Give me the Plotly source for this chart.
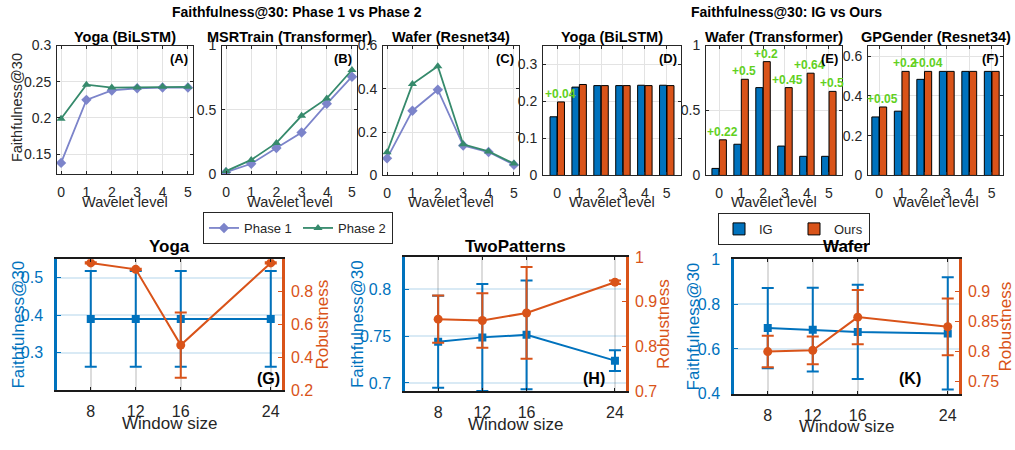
import plotly.graph_objects as go

# ---------------- data ----------------
levels = [0, 1, 2, 3, 4, 5]

# Phase 1 vs Phase 2 (Faithfulness@30)
yoga_bilstm_p1 = [0.138, 0.225, 0.238, 0.241, 0.242, 0.242]
yoga_bilstm_p2 = [0.199, 0.246, 0.242, 0.242, 0.243, 0.243]
msrtrain_p1 = [0.018, 0.083, 0.205, 0.325, 0.548, 0.758]
msrtrain_p2 = [0.026, 0.113, 0.245, 0.455, 0.590, 0.810]
wafer_res_p1 = [0.079, 0.299, 0.396, 0.138, 0.108, 0.049]
wafer_res_p2 = [0.107, 0.422, 0.504, 0.144, 0.111, 0.055]

# IG vs Ours (Faithfulness@30)
yoga_ig = [0.158, 0.238, 0.242, 0.242, 0.243, 0.243]
yoga_ours = [0.198, 0.245, 0.242, 0.242, 0.242, 0.242]
wafer_tr_ig = [0.054, 0.240, 0.676, 0.226, 0.147, 0.147]
wafer_tr_ours = [0.274, 0.740, 0.876, 0.676, 0.787, 0.647]
gpgender_ig = [0.294, 0.323, 0.483, 0.523, 0.523, 0.523]
gpgender_ours = [0.344, 0.523, 0.523, 0.523, 0.523, 0.523]
yoga_gain_idx = [0]
wafer_tr_gain_idx = [0, 1, 2, 3, 4, 5]
gpgender_gain_idx = [0, 1, 2]

# Window size study
windows = [8, 12, 16, 24]
yoga_faith = [0.39, 0.39, 0.39, 0.39]
yoga_faith_err = [0.128, 0.128, 0.128, 0.128]
yoga_rob = [0.972, 0.933, 0.473, 0.972]
yoga_rob_err = [0.004, 0.004, 0.198, 0.004]
twop_faith = [0.744, 0.7486, 0.7513, 0.7238]
twop_faith_err = [0.049, 0.057, 0.058, 0.011]
twop_rob = [0.861, 0.858, 0.875, 0.944]
twop_rob_err = [0.053, 0.061, 0.103, 0.004]
wafer_faith = [0.693, 0.686, 0.676, 0.669]
wafer_faith_err = [0.179, 0.187, 0.210, 0.250]
wafer_rob = [0.800, 0.802, 0.857, 0.841]
wafer_rob_err = [0.026, 0.023, 0.045, 0.047]

# ---------------- style ----------------
W, H = 1015, 450
FONT = "Liberation Sans, Arial, Helvetica, sans-serif"
DARK = "#262626"
GRID = "#E3E3E3"
C_P1 = "rgb(124,132,202)"
C_P2 = "rgb(54,138,108)"
C_IG = "#0072BD"
C_OURS = "#D95319"
C_GAIN = "rgb(98,208,30)"
BLUE_GRID = "rgba(0,114,189,0.15)"


def xd(left, right):
    return [left / W, right / W]


def yd(top, bottom):
    return [1 - bottom / H, 1 - top / H]


def px(x):
    return x / W


def py(y):
    return 1 - y / H


fig = go.Figure()
layout = dict(
    width=W, height=H, autosize=False,
    margin=dict(l=0, r=0, t=0, b=0),
    paper_bgcolor="white", plot_bgcolor="white",
    font=dict(family=FONT, color=DARK, size=14),
    barmode="group", bargap=0.32, bargroupgap=0.06,
    showlegend=True,
)
annotations = []


def add_text(x, y, text, size=14, bold=False, color=DARK, xanchor="center",
             yanchor="middle", angle=0):
    annotations.append(dict(
        x=px(x), y=py(y), xref="paper", yref="paper", showarrow=False,
        text=f"<b>{text}</b>" if bold else text, textangle=angle,
        font=dict(size=size, color=color, family=FONT),
        xanchor=xanchor, yanchor=yanchor))


def top_axes(i, box, xrange, yrange, yticks):
    l, t, r, b = box
    layout[f"xaxis{i}"] = dict(
        domain=xd(l, r), anchor=f"y{i}", range=xrange,
        tickvals=levels, showgrid=True, gridcolor=GRID, zeroline=False,
        showline=True, linecolor=DARK, linewidth=1, mirror="ticks",
        ticks="inside", ticklen=3, tickcolor=DARK,
        tickfont=dict(size=14, color=DARK), ticklabelstandoff=5)
    layout[f"yaxis{i}"] = dict(
        domain=yd(t, b), anchor=f"x{i}", range=yrange,
        tickvals=yticks, showgrid=True, gridcolor=GRID, zeroline=False,
        showline=True, linecolor=DARK, linewidth=1, mirror="ticks",
        ticks="inside", ticklen=3, tickcolor=DARK,
        tickfont=dict(size=14, color=DARK), ticklabelstandoff=2)
    add_text((l + r) / 2, 202, "Wavelet level", size=14.5)


# ---------------- top row: Phase 1 vs Phase 2 ----------------
line_panels = [
    (1, (57, 39, 193, 173), [0.122, 0.3], [0.15, 0.2, 0.25, 0.3],
     yoga_bilstm_p1, yoga_bilstm_p2, "Yoga (BiLSTM)", "(A)"),
    (2, (222, 39, 357, 173), [0, 1], [0, 0.5, 1],
     msrtrain_p1, msrtrain_p2, "MSRTrain (Transformer)", "(B)"),
    (3, (383, 39, 519, 174), [0, 0.6], [0, 0.2, 0.4, 0.6],
     wafer_res_p1, wafer_res_p2, "Wafer (Resnet34)", "(C)"),
]
for i, box, yr, yt, p1, p2, title, tag in line_panels:
    top_axes(i, box, [-0.16, 5.2], yr, yt)
    fig.add_trace(go.Scatter(
        x=levels, y=p1, mode="lines+markers", name="Phase 1",
        line=dict(color=C_P1, width=1.8),
        marker=dict(symbol="diamond", size=8, color=C_P1),
        xaxis=f"x{i}", yaxis=f"y{i}", legend="legend", showlegend=(i == 1)))
    fig.add_trace(go.Scatter(
        x=levels, y=p2, mode="lines+markers", name="Phase 2",
        line=dict(color=C_P2, width=1.8),
        marker=dict(symbol="triangle-up", size=8, color=C_P2),
        xaxis=f"x{i}", yaxis=f"y{i}", legend="legend", showlegend=(i == 1)))
    l, t, r, b = box
    add_text((l + r) / 2, 30, title, size=14.5, bold=True, color="black")
    add_text(r - 3, 53, tag, size=13, bold=True, color="black", xanchor="right")

add_text(17, 104, "Faithfulness@30", size=14.5, angle=-90)

# ---------------- top row: IG vs Ours ----------------
bar_panels = [
    (4, (543, 39, 681, 174), [-0.65, 5.65], [0, 0.35], [0, 0.1, 0.2, 0.3],
     yoga_ig, yoga_ours, yoga_gain_idx, "Yoga (BiLSTM)", "(D)"),
    (5, (706, 39, 842, 174), [-0.6, 5.6], [0, 1], [0, 0.5, 1],
     wafer_tr_ig, wafer_tr_ours, wafer_tr_gain_idx, "Wafer (Transformer)", "(E)"),
    (6, (868, 39, 1003, 174), [-0.5, 5.5], [0, 0.653], [0, 0.2, 0.4, 0.6],
     gpgender_ig, gpgender_ours, gpgender_gain_idx, "GPGender (Resnet34)", "(F)"),
]
for i, box, xr, yr, yt, ig, ours, gain_idx, title, tag in bar_panels:
    top_axes(i, box, xr, yr, yt)
    fig.add_trace(go.Bar(
        x=levels, y=ig, name="IG", marker=dict(color=C_IG, line=dict(color="black", width=1)),
        xaxis=f"x{i}", yaxis=f"y{i}", legend="legend2", showlegend=(i == 5)))
    fig.add_trace(go.Bar(
        x=levels, y=ours, name="Ours", marker=dict(color=C_OURS, line=dict(color="black", width=1)),
        xaxis=f"x{i}", yaxis=f"y{i}", legend="legend2", showlegend=(i == 5)))
    for k in gain_idx:
        gain = round(ours[k] - ig[k], 2)
        annotations.append(dict(
            x=levels[k], y=ours[k], xref=f"x{i}", yref=f"y{i}", showarrow=False,
            text=f"<b>+{gain:g}</b>", xshift=3, yshift=-1,
            font=dict(size=12, color=C_GAIN, family=FONT),
            xanchor="center", yanchor="bottom"))
    l, t, r, b = box
    add_text((l + r) / 2, 30, title, size=14.5, bold=True, color="black")
    add_text(r - 2, 52, tag, size=13, bold=True, color="black", xanchor="right")

add_text(297, 4, "Faithfulness@30: Phase 1 vs Phase 2", size=14, bold=True, color="black")
add_text(786, 4, "Faithfulness@30: IG vs Ours", size=14, bold=True, color="black")

# ---------------- bottom row: window size ----------------
win_panels = [
    (7, 7, 8, (57, 261, 282, 397), [0.2, 0.55], [0.3, 0.4, 0.5],
     [0.2, 0.995], [0.2, 0.4, 0.6, 0.8], yoga_faith, yoga_faith_err, yoga_rob, yoga_rob_err,
     "Yoga", "(G)", 282, 19, 323, 432),
    (8, 9, 10, (405, 259, 626, 398), [0.6915, 0.834], [0.7, 0.75, 0.8],
     [0.7, 1.0], [0.7, 0.8, 0.9, 1], twop_faith, twop_faith_err, twop_rob, twop_rob_err,
     "TwoPatterns", "(H)", 607, 357, 663, 433),
    (9, 11, 12, (734, 261, 959, 401), [0.4, 1.0], [0.4, 0.6, 0.8, 1],
     [0.73, 0.953], [0.75, 0.8, 0.85, 0.9], wafer_faith, wafer_faith_err, wafer_rob, wafer_rob_err,
     "Wafer", "(K)", 923, 693, 1005, 435),
]
for (xi, yl, yr_, box, fr, ft, rr, rt, faith, ferr, rob, rerr,
     title, tag, tag_x, fl_x, rl_x, xt_y) in win_panels:
    l, t, r, b = box
    layout[f"xaxis{xi}"] = dict(
        domain=xd(l, r), anchor=f"y{yl}", range=[5, 25], tickvals=windows,
        showgrid=True, gridcolor="#DCDCDC", gridwidth=1.5, zeroline=False,
        showline=True, linecolor="#1a1a1a", linewidth=2, mirror="ticks",
        ticks="inside", ticklen=3, tickcolor="#1a1a1a",
        tickfont=dict(size=16, color=DARK), ticklabelstandoff=6)
    layout[f"yaxis{yl}"] = dict(
        domain=yd(t, b), anchor=f"x{xi}", range=fr, tickvals=ft,
        showgrid=True, gridcolor=BLUE_GRID, gridwidth=1.5, zeroline=False,
        showline=True, linecolor=C_IG, linewidth=2.5,
        ticks="inside", ticklen=4, tickcolor=C_IG,
        tickfont=dict(size=16, color=C_IG), ticklabelstandoff=8)
    layout[f"yaxis{yr_}"] = dict(
        overlaying=f"y{yl}", side="right", anchor=f"x{xi}", range=rr, tickvals=rt,
        showgrid=False, zeroline=False,
        showline=True, linecolor=C_OURS, linewidth=2.5,
        ticks="inside", ticklen=4, tickcolor=C_OURS,
        tickfont=dict(size=16, color=C_OURS), ticklabelstandoff=3)
    fig.add_trace(go.Scatter(
        x=windows, y=faith, mode="lines+markers", name="Faithfulness@30",
        line=dict(color=C_IG, width=2), marker=dict(symbol="square", size=8, color=C_IG),
        error_y=dict(type="data", array=ferr, color=C_IG, thickness=2, width=6),
        xaxis=f"x{xi}", yaxis=f"y{yl}", showlegend=False))
    fig.add_trace(go.Scatter(
        x=windows, y=rob, mode="lines+markers", name="Robustness",
        line=dict(color=C_OURS, width=2), marker=dict(symbol="circle", size=9, color=C_OURS),
        error_y=dict(type="data", array=rerr, color=C_OURS, thickness=2, width=6),
        xaxis=f"x{xi}", yaxis=f"y{yr_}", showlegend=False))
    add_text((l + r) / 2, 248, title, size=17, bold=True, color="black")
    add_text(tag_x, 385, tag, size=16, bold=True, color="black", xanchor="right")
    add_text((l + r) / 2, xt_y, "Window size", size=17)
    add_text(fl_x, (t + b) / 2, "Faithfulness@30", size=17, color=C_IG, angle=-90)
    add_text(rl_x, (t + b) / 2, "Robustness", size=17, color=C_OURS, angle=-90)

layout["legend"] = dict(
    x=px(203), y=py(212), xanchor="left", yanchor="top", orientation="h",
    bgcolor="white", bordercolor=DARK, borderwidth=1,
    font=dict(size=13, color=DARK), itemwidth=30, entrywidth=49, tracegroupgap=0)
layout["legend2"] = dict(
    x=px(718), y=py(213), xanchor="left", yanchor="top", orientation="h",
    bgcolor="white", bordercolor=DARK, borderwidth=1,
    font=dict(size=13, color=DARK), itemwidth=30, entrywidth=30, tracegroupgap=0)
layout["annotations"] = annotations

fig.update_layout(**layout)
fig.write_html("out.html")
